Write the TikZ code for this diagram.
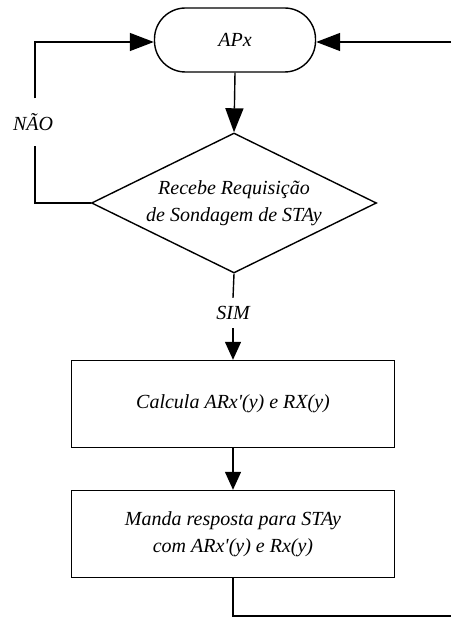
\documentclass[tikz,border=0pt]{standalone}
\usepackage{fontspec}
\setmainfont{Liberation Serif}
\usetikzlibrary{shapes.geometric,arrows.meta}
\begin{document}
\begin{tikzpicture}[x=1pt,y=-1pt,
  every node/.style={font=\fontsize{20}{27}\selectfont\itshape, align=center},
  line/.style={line width=1.4pt},
  flow/.style={line, -{Triangle[length=18pt,width=16pt]}},
  bigflow/.style={line, -{Triangle[length=24pt,width=18pt]}},
  terminal/.style={draw, line width=1.4pt, rounded corners=31pt, minimum width=161pt, minimum height=64pt, inner sep=0pt},
  decision/.style={draw, line width=1.4pt, diamond, aspect=2.03, minimum width=285pt, minimum height=140pt, inner sep=0pt},
  process/.style={draw, line width=1.4pt, rectangle, minimum width=323pt, minimum height=87pt, inner sep=0pt},
  tag/.style={inner sep=0pt, minimum height=30pt}]
\useasboundingbox (0,0) rectangle (451,617);

% shapes
\node[terminal] (t) at (235,40) {APx};
\node[decision] (d) at (234,203) {Recebe Requisição\\de Sondagem de STAy};
\node[process] (p1) at (233,404) {Calcula ARx\textquotesingle(y) e RX(y)};
\node[process] (p2) at (233,534) {Manda resposta para STAy\\com ARx\textquotesingle(y) e Rx(y)};

% labels on the branches
\node[tag, minimum height=47pt] (nao) at (33,122) {NÃO};
\node[tag] (sim) at (233,313) {SIM};

% corner points
\coordinate (nl) at (35,203);
\coordinate (nu) at (35,42);
\coordinate (re) at (451,42);
\coordinate (bd) at (233,616);
\coordinate (be) at (451,616);

% connectors
\draw[bigflow] (t.south) -- (d.north);
\draw[line] (d.west) -- (nl) -- (nao.south -| nl);
\draw[bigflow] (nao.north -| nl) -- (nu) -- (t.west |- nu);
\draw[bigflow] (re) -- (t.east |- re);
\draw[line] (d.south) -- (sim.north);
\draw[flow] (sim.south) -- (p1.north);
\draw[flow] (p1.south) -- (p2.north);
\draw[line] (p2.south) -- (bd) -- (be);
\end{tikzpicture}
\end{document}
